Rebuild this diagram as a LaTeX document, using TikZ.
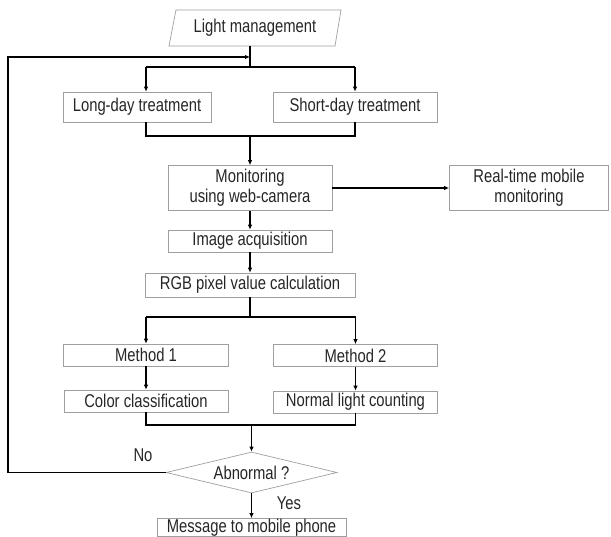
\documentclass[tikz,border=0pt]{standalone}
\usepackage{fontspec}
\setmainfont{Liberation Sans}[FakeStretch=0.8]
\usetikzlibrary{arrows.meta,shapes.geometric}

\begin{document}
\begin{tikzpicture}[x=1pt, y=-1pt,
  box/.style = {draw=gray!75, line width=0.7pt, inner sep=0pt, minimum width=164pt,
    minimum height=22pt, align=center, text=black!85, font=\fontsize{18.5}{20}\selectfont},
  label/.style = {inner sep=0pt, text=black!85, font=\fontsize{18.5}{20}\selectfont},
  link/.style = {line width=1.4pt},
  arr/.style = {link, -{Latex[length=5pt,width=4.5pt]}}]
  \useasboundingbox (0,0) rectangle (611,536);

  % boxes
  \node[label] (light) at (255,28) {Light management};
  \draw[gray!75, line width=0.7pt] (176,10) -- (341,10) -- (335,46) -- (169,46) -- cycle;
  \node[box, minimum width=148pt, minimum height=30pt] (long) at (137,107) {Long-day treatment};
  \node[box, minimum height=30pt] (short) at (355,107) {Short-day treatment};
  \node[box, minimum height=45pt] (mon) at (250,188) {Monitoring\\using web-camera};
  \node[box, minimum width=159pt, minimum height=45pt] (real) at (529,188) {Real-time mobile\\monitoring};
  \node[box] (acq) at (250,241) {Image acquisition};
  \node[box, minimum width=210pt, minimum height=24pt] (rgb) at (250,285) {RGB pixel value calculation};
  \node[box, minimum width=165pt] (m1) at (146,355) {Method 1};
  \node[box] (m2) at (355.5,355.5) {Method 2};
  \node[box] (col) at (146,401) {Color classification};
  \node[box] (norm) at (355.5,402) {Normal light counting};
  \node[box, shape=diamond, aspect=4.2, minimum width=171pt, minimum height=41pt] (dia) at (251.5,472.5) {Abnormal ?};
  \node[box, minimum width=189pt, minimum height=18pt] (msg) at (251.5,527.5) {Message to mobile phone};
  \node[label] (no) at (143,455) {No};
  \node[label] (yes) at (289,503) {Yes};

  % connectors
  \coordinate (top) at (250,46);
  \coordinate (fb) at (250,57);
  \coordinate (back) at (8,57);
  \coordinate (fl) at (146,67);
  \coordinate (fr) at (355,67);
  \coordinate (jl) at (146,136);
  \coordinate (jr) at (355,136);
  \coordinate (gl) at (146,317);
  \coordinate (gr) at (355.5,317);
  \coordinate (hl) at (146,425);
  \coordinate (hr) at (355.5,425);

  \draw[link] (top) -- (top |- fl);
  \draw[link] (fl) -- (fr);
  \draw[arr] (fl) -- (fl |- long.north);
  \draw[arr] (fr) -- (short);
  \draw[link] (jl |- long.south) -- (jl) -- (jr) -- (short.south);
  \draw[arr] (jl -| mon) -- (mon);
  \draw[arr] (mon) -- (real);
  \draw[arr] (mon) -- (acq);
  \draw[arr] (acq) -- (rgb);
  \draw[link] (rgb.south) -- (rgb.south |- gl);
  \draw[link] (gl) -- (gr);
  \draw[arr] (gl) -- (m1);
  \draw[arr] (gr) -- (m2);
  \draw[arr] (m1) -- (col);
  \draw[arr] (m2) -- (norm);
  \draw[link] (col.south) -- (hl) -- (hr) -- (norm.south);
  \draw[arr] (hl -| dia) -- (dia);
  \draw[arr] (dia) -- (msg);
  \draw[arr] (dia.west) -| (back) -- (fb);
\end{tikzpicture}
\end{document}
